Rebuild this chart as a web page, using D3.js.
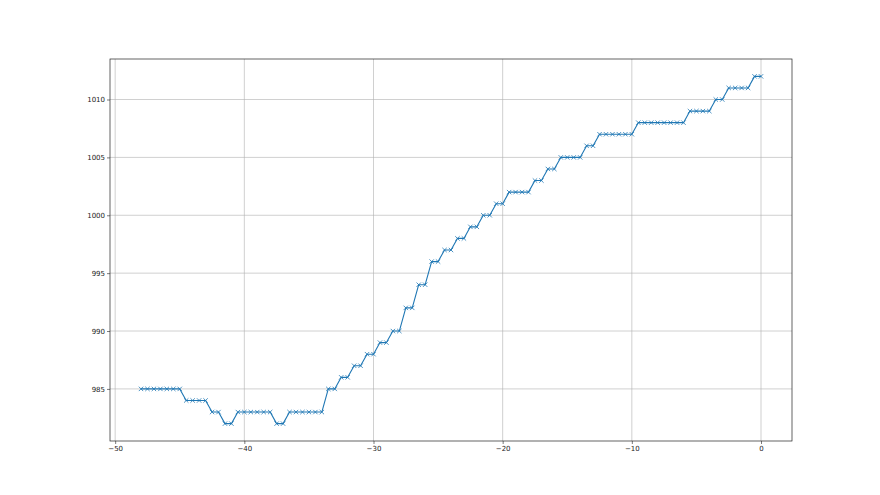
<!DOCTYPE html>
<html>
<head>
<meta charset="utf-8">
<script src="https://cdn.jsdelivr.net/npm/d3@7"></script>
<style>
  html, body { margin: 0; padding: 0; background: #fff; }
  svg { display: block; }
  text { font-family: "DejaVu Sans", sans-serif; }
</style>
</head>
<body>
<svg id="chart" width="880" height="495"></svg>
<script>
// Data: x runs from -48 to 0 in steps of 0.5 (97 samples)
const xValues = [
  -48, -47.5, -47, -46.5, -46, -45.5, -45, -44.5, -44, -43.5,
  -43, -42.5, -42, -41.5, -41, -40.5, -40, -39.5, -39, -38.5,
  -38, -37.5, -37, -36.5, -36, -35.5, -35, -34.5, -34, -33.5,
  -33, -32.5, -32, -31.5, -31, -30.5, -30, -29.5, -29, -28.5,
  -28, -27.5, -27, -26.5, -26, -25.5, -25, -24.5, -24, -23.5,
  -23, -22.5, -22, -21.5, -21, -20.5, -20, -19.5, -19, -18.5,
  -18, -17.5, -17, -16.5, -16, -15.5, -15, -14.5, -14, -13.5,
  -13, -12.5, -12, -11.5, -11, -10.5, -10, -9.5, -9, -8.5,
  -8, -7.5, -7, -6.5, -6, -5.5, -5, -4.5, -4, -3.5,
  -3, -2.5, -2, -1.5, -1, -0.5, 0
];
const yValues = [
  985, 985, 985, 985, 985, 985, 985, 984, 984, 984,
  984, 983, 983, 982, 982, 983, 983, 983, 983, 983,
  983, 982, 982, 983, 983, 983, 983, 983, 983, 985,
  985, 986, 986, 987, 987, 988, 988, 989, 989, 990,
  990, 992, 992, 994, 994, 996, 996, 997, 997, 998,
  998, 999, 999, 1000, 1000, 1001, 1001, 1002, 1002, 1002,
  1002, 1003, 1003, 1004, 1004, 1005, 1005, 1005, 1005, 1006,
  1006, 1007, 1007, 1007, 1007, 1007, 1007, 1008, 1008, 1008,
  1008, 1008, 1008, 1008, 1008, 1009, 1009, 1009, 1009, 1010,
  1010, 1011, 1011, 1011, 1011, 1012, 1012
];
const xTicks = [-50, -40, -30, -20, -10, 0];
const yTicks = [985, 990, 995, 1000, 1005, 1010];

const data = xValues.map((xv, i) => ({ x: xv, y: yValues[i] }));

const W = 880, H = 495;
const mLeft = 110, mRight = 792, mTop = 59, mBottom = 441;

const xMin = d3.min(xValues), xMax = d3.max(xValues);
const yMin = d3.min(yValues), yMax = d3.max(yValues);
const xPad = (xMax - xMin) * 0.05, yPad = (yMax - yMin) * 0.05;

const xScale = d3.scaleLinear().domain([xMin - xPad, xMax + xPad]).range([mLeft, mRight]);
const yScale = d3.scaleLinear().domain([yMin - yPad, yMax + yPad]).range([mBottom, mTop]);

const svg = d3.select("#chart");
svg.append("rect").attr("width", W).attr("height", H).attr("fill", "#fff");

// grid
const grid = svg.append("g");
grid.selectAll("line.vx").data(xTicks).enter().append("line")
  .attr("x1", d => xScale(d)).attr("x2", d => xScale(d))
  .attr("y1", mTop).attr("y2", mBottom)
  .attr("stroke", "#b0b0b0").attr("stroke-width", 0.6);
grid.selectAll("line.hy").data(yTicks).enter().append("line")
  .attr("x1", mLeft).attr("x2", mRight)
  .attr("y1", d => yScale(d)).attr("y2", d => yScale(d))
  .attr("stroke", "#b0b0b0").attr("stroke-width", 0.6);

// line
const line = d3.line().x(d => xScale(d.x)).y(d => yScale(d.y));
svg.append("path").datum(data)
  .attr("d", line)
  .attr("fill", "none")
  .attr("stroke", "#1f77b4")
  .attr("stroke-width", 1.1)
  .attr("stroke-linejoin", "round");

// markers 'x'
const ms = 2.2;
const mk = svg.append("g");
mk.selectAll("path").data(data).enter().append("path")
  .attr("d", d => {
    const cx = xScale(d.x), cy = yScale(d.y);
    return `M${cx - ms},${cy - ms}L${cx + ms},${cy + ms}M${cx - ms},${cy + ms}L${cx + ms},${cy - ms}`;
  })
  .attr("stroke", "#1f77b4")
  .attr("stroke-width", 0.8)
  .attr("fill", "none");

// axes
const xAxis = d3.axisBottom(xScale).tickValues(xTicks).tickSize(3).tickPadding(2)
  .tickFormat(d => d < 0 ? "\u2212" + Math.abs(d) : String(d));
const yAxis = d3.axisLeft(yScale).tickValues(yTicks).tickSize(3).tickPadding(2)
  .tickFormat(d3.format("d"));

const gx = svg.append("g").attr("transform", `translate(0,${mBottom})`).call(xAxis);
const gy = svg.append("g").attr("transform", `translate(${mLeft},0)`).call(yAxis);
[gx, gy].forEach(g => {
  g.select(".domain").remove();
  g.selectAll(".tick line").attr("stroke", "#222").attr("stroke-width", 0.6);
  g.selectAll(".tick text").attr("fill", "#222").attr("font-size", 7)
    .attr("font-family", "DejaVu Sans, sans-serif");
});

// frame
svg.append("rect")
  .attr("x", mLeft).attr("y", mTop)
  .attr("width", mRight - mLeft).attr("height", mBottom - mTop)
  .attr("fill", "none").attr("stroke", "#222").attr("stroke-width", 0.7);
</script>
</body>
</html>
